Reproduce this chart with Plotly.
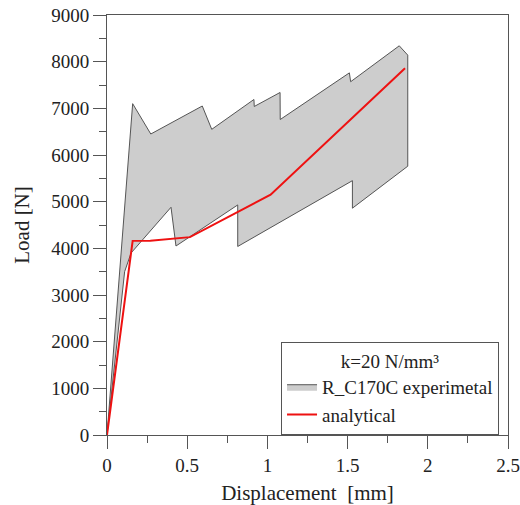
import plotly.graph_objects as go

# Experimental envelope (R_C170C): upper boundary, then lower boundary back to origin
exp_disp = [0.0, 0.160, 0.273, 0.594, 0.653, 0.916, 0.918, 1.079, 1.080,
            1.511, 1.519, 1.822, 1.875, 1.875, 1.530, 1.530, 0.815, 0.815,
            0.430, 0.399, 0.150, 0.110, 0.0]
exp_load = [0, 7100, 6450, 7050, 6550, 7190, 7040, 7340, 6760,
            7760, 7570, 8340, 8140, 5760, 4860, 5450, 4040, 4930,
            4050, 4880, 3900, 3500, 0]

# Analytical prediction
ana_disp = [0.0, 0.160, 0.270, 0.517, 1.020, 1.858]
ana_load = [0, 4160, 4165, 4240, 5150, 7860]

legend_title = "k=20 N/mm³"
x_ticks = [0, 0.5, 1, 1.5, 2, 2.5]
x_tick_text = ["0", "0.5", "1", "1.5", "2", "2.5"]
y_ticks = list(range(0, 9001, 1000))

font_family = "Liberation Serif, Times New Roman, serif"
axis_color = "#555555"

fig = go.Figure()
fig.add_trace(go.Scatter(
    x=exp_disp, y=exp_load, mode="lines", fill="toself",
    fillcolor="#cdcdcd", line=dict(color="#555555", width=1),
    name="R_C170C experimetal",
))
fig.add_trace(go.Scatter(
    x=ana_disp, y=ana_load, mode="lines",
    line=dict(color="#ee1111", width=2),
    name="analytical",
))

fig.update_layout(
    width=520, height=505,
    margin=dict(l=107, r=12, t=15, b=70),
    paper_bgcolor="white", plot_bgcolor="white",
    font=dict(family=font_family, size=19, color="#222222"),
    showlegend=True,
    legend=dict(
        x=0.434, y=0.221, xanchor="left", yanchor="top",
        bgcolor="white", bordercolor=axis_color, borderwidth=1,
        font=dict(size=19), itemwidth=30, tracegroupgap=0,
        title=dict(text=legend_title, side="top center", font=dict(size=19)),
    ),
)
fig.update_xaxes(
    range=[0, 2.5], tickvals=x_ticks, ticktext=x_tick_text,
    showgrid=False, zeroline=False, automargin=False,
    showline=True, linecolor=axis_color, linewidth=1, mirror=True,
    ticks="outside", ticklen=13, tickcolor=axis_color,
    minor=dict(dtick=0.25, ticks="outside", ticklen=7, tickcolor=axis_color),
    tickfont=dict(size=19),
    title=dict(text="Displacement  [mm]", font=dict(size=21)),
)
fig.update_yaxes(
    range=[0, 9000], tickvals=y_ticks,
    showgrid=False, zeroline=False, automargin=False,
    showline=True, linecolor=axis_color, linewidth=1, mirror=True,
    ticks="outside", ticklen=13, tickcolor=axis_color,
    minor=dict(dtick=500, ticks="outside", ticklen=7, tickcolor=axis_color),
    tickfont=dict(size=19),
    title=dict(text="Load [N]", font=dict(size=21)),
)

fig.write_html("out.html")
